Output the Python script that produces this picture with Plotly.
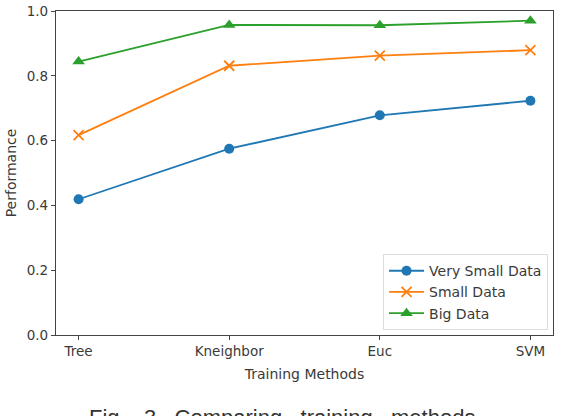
import plotly.graph_objects as go

methods = ["Tree", "Kneighbor", "Euc", "SVM"]
very_small = [0.419, 0.575, 0.678, 0.723]
small = [0.617, 0.831, 0.862, 0.879]
big = [0.844, 0.957, 0.956, 0.970]

colors = ["#1f77b4", "#ff7f0e", "#2ca02c"]

fig = go.Figure()
fig.add_trace(go.Scatter(x=methods, y=very_small, name="Very Small Data", mode="lines+markers",
                         line=dict(color=colors[0], width=1.8),
                         marker=dict(symbol="circle", size=10, color=colors[0])))
fig.add_trace(go.Scatter(x=methods, y=small, name="Small Data", mode="lines+markers",
                         line=dict(color=colors[1], width=1.8),
                         marker=dict(symbol="x-thin", size=10, color=colors[1],
                                     line=dict(color=colors[1], width=1.8))))
fig.add_trace(go.Scatter(x=methods, y=big, name="Big Data", mode="lines+markers",
                         line=dict(color=colors[2], width=1.8),
                         marker=dict(symbol="triangle-up", size=11, color=colors[2])))

axis_common = dict(showline=True, linecolor="#444", linewidth=1.2, mirror=True,
                   ticks="outside", ticklen=4, tickcolor="#444", showgrid=False,
                   zeroline=False, automargin=False,
                   tickfont=dict(family="DejaVu Sans", size=13.5, color="#3a3a3a"))

fig.update_layout(
    width=561, height=416,
    margin=dict(l=56, r=8, t=11, b=81),
    paper_bgcolor="white", plot_bgcolor="white",
    xaxis=dict(range=[-0.15, 3.15], title=dict(text="Training Methods", standoff=10,
               font=dict(family="DejaVu Sans", size=14, color="#3a3a3a")), **axis_common),
    yaxis=dict(range=[0, 1], dtick=0.2, tickformat=".1f",
               title=dict(text="Performance", standoff=6,
                          font=dict(family="DejaVu Sans", size=14, color="#3a3a3a")), **axis_common),
    legend=dict(x=0.99, y=0.015, xanchor="right", yanchor="bottom",
                bgcolor="white", bordercolor="#ddd", borderwidth=1,
                font=dict(family="DejaVu Sans", size=14, color="#3a3a3a"),
                tracegroupgap=0, itemwidth=35),
    showlegend=True,
)

fig.add_annotation(text="Fig.   3   Comparing   training   methods", xref="paper", yref="paper",
                   x=0.455, y=-0.21, xanchor="center", yanchor="top", showarrow=False,
                   font=dict(family="Liberation Sans", size=22, color="#333"))

fig.write_html("out.html")
